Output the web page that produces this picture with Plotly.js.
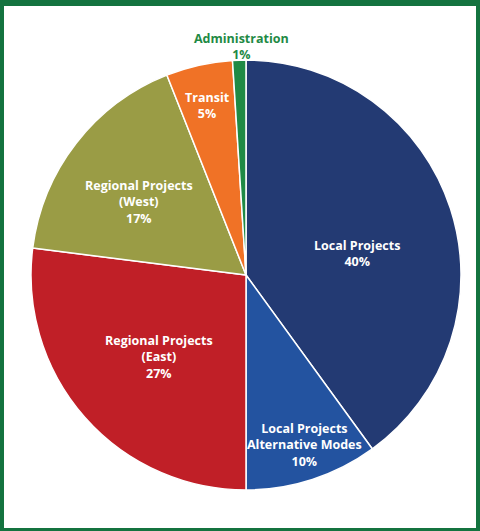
<!DOCTYPE html>
<html>
<head>
<meta charset="utf-8">
<script src="https://cdn.plot.ly/plotly-3.0.1.min.js"></script>
<style>
html,body{margin:0;padding:0;background:#fff;}
#wrap{position:relative;width:480px;height:531px;}
#chart{width:480px;height:531px;}
#frame{position:absolute;left:0;top:0;width:480px;height:531px;box-sizing:border-box;border-style:solid;border-color:#14733f;border-width:6px 4px 3px 4px;pointer-events:none;}
</style>
</head>
<body>
<div id="wrap"><div id="chart"></div><div id="frame"></div></div>
<script>
const categories = ["Local Projects", "Local Projects<br>Alternative Modes", "Regional Projects<br>(East)", "Regional Projects<br>(West)", "Transit", "Administration"];
const shares = [40, 10, 27, 17, 5, 1];
const colors = ["#233a73", "#2353a0", "#c01f27", "#9a9c45", "#f07226", "#1f8a45"];

// label placement (style): fraction of radius and angular nudge (deg) from slice middle
const labelRadius = [0.526, 0.837, 0.558, 0.602, 0.811, 1.065];
const labelNudge = [7.0, -1.1, -2.0, -3.5, -0.3, 0.55];
const labelColors = ["#ffffff", "#ffffff", "#ffffff", "#ffffff", "#ffffff", "#1f8a45"];

const W = 480, H = 531;
const dom = {x: [31/W, 461/W], y: [1 - 490/H, 1 - 60/H]};

const trace = {
  type: "pie",
  labels: categories,
  values: shares,
  sort: false,
  direction: "clockwise",
  rotation: 0,
  marker: {colors: colors, line: {color: "#ffffff", width: 1.5}},
  textinfo: "none",
  hoverinfo: "none",
  showlegend: false,
  domain: dom
};

// compute label positions from the slice angles
const total = shares.reduce((a, b) => a + b, 0);
const cx = (dom.x[0] + dom.x[1]) / 2 * W;
const cy = (1 - (dom.y[0] + dom.y[1]) / 2) * H;
const R = Math.min((dom.x[1] - dom.x[0]) * W, (dom.y[1] - dom.y[0]) * H) / 2;
let cum = 0;
const annotations = shares.map((v, i) => {
  const mid = (cum + v / 2) / total * 2 * Math.PI + labelNudge[i] * Math.PI / 180;
  cum += v;
  const px = cx + labelRadius[i] * R * Math.sin(mid);
  const py = cy - labelRadius[i] * R * Math.cos(mid);
  return {
    xref: "paper", yref: "paper",
    x: px / W, y: 1 - py / H,
    xanchor: "center", yanchor: "middle",
    showarrow: false,
    text: categories[i] + "<br>" + v + "%",
    align: "center",
    font: {family: "Open Sans, sans-serif", size: 12.5, color: labelColors[i], weight: 700}
  };
});

Plotly.newPlot("chart", [trace], {
  width: W, height: H,
  margin: {l: 0, r: 0, t: 0, b: 0},
  paper_bgcolor: "#ffffff",
  showlegend: false,
  annotations: annotations
}, {displayModeBar: false, staticPlot: true});
</script>
</body>
</html>
